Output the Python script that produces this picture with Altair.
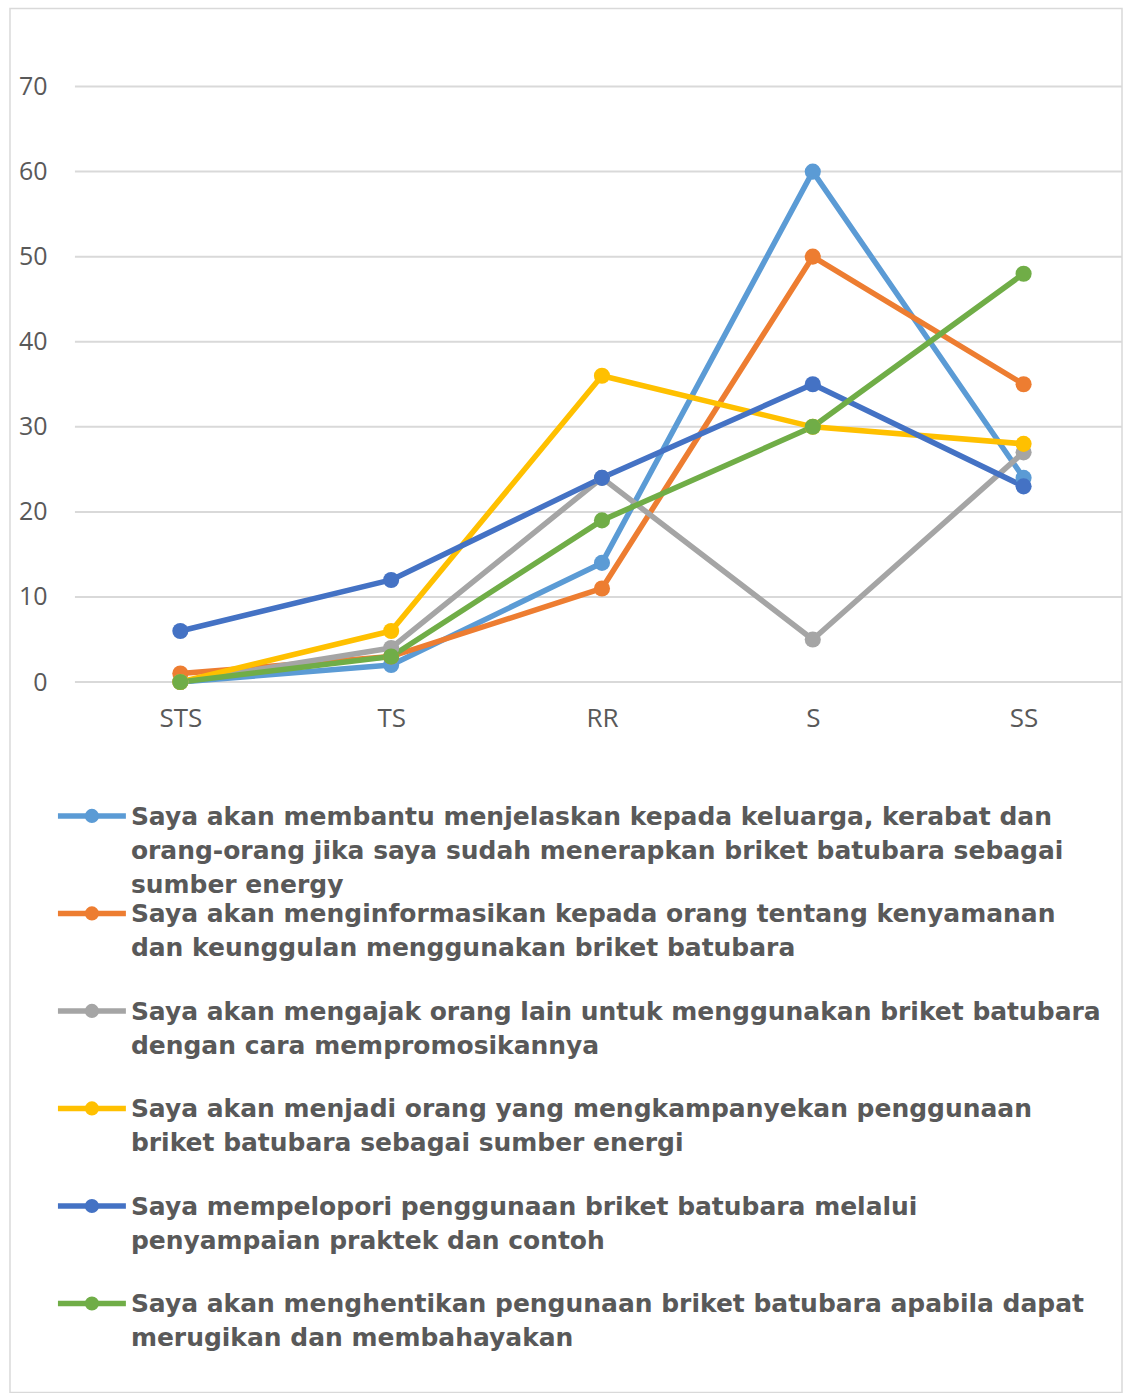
import altair as alt
import pandas as pd

# Likert categories on the x axis
categories = ["STS", "TS", "RR", "S", "SS"]

# One entry per statement (series), with the lines used in the legend
series_lines = [
    ["Saya akan membantu menjelaskan kepada keluarga, kerabat dan",
     "orang-orang jika saya sudah menerapkan briket batubara sebagai",
     "sumber energy"],
    ["Saya akan menginformasikan kepada orang tentang kenyamanan",
     "dan keunggulan menggunakan briket batubara"],
    ["Saya akan mengajak orang lain untuk menggunakan briket batubara",
     "dengan cara mempromosikannya"],
    ["Saya akan menjadi orang yang mengkampanyekan penggunaan",
     "briket batubara sebagai sumber energi"],
    ["Saya mempelopori penggunaan briket batubara melalui",
     "penyampaian praktek dan contoh"],
    ["Saya akan menghentikan pengunaan briket batubara apabila dapat",
     "merugikan dan membahayakan"],
]
series_colors = ["#5B9BD5", "#ED7D31", "#A5A5A5", "#FFC000", "#4472C4", "#70AD47"]

# Response counts per category (STS, TS, RR, S, SS)
membantu = [0, 2, 14, 60, 24]
menginformasikan = [1, 3, 11, 50, 35]
mengajak = [0, 4, 24, 5, 27]
mengkampanyekan = [0, 6, 36, 30, 28]
mempelopori = [6, 12, 24, 35, 23]
menghentikan = [0, 3, 19, 30, 48]

y_ticks = [0, 10, 20, 30, 40, 50, 60, 70]

series_values = [membantu, menginformasikan, mengajak,
                 mengkampanyekan, mempelopori, menghentikan]
series_names = [" ".join(lines) for lines in series_lines]

rows = []
for name, vals in zip(series_names, series_values):
    for cat, v in zip(categories, vals):
        rows.append({"series": name, "kategori": cat, "jumlah": v})
df = pd.DataFrame(rows)

legend_df = pd.DataFrame({
    "series": series_names,
    "entry": list(range(len(series_names))),
    "label": ["\n".join(lines) for lines in series_lines],
})
grid_df = pd.DataFrame({"tick": y_ticks})

W, H = 1113, 1385
TEXT = "#595959"

color = alt.Color("series:N", scale=alt.Scale(domain=series_names, range=series_colors),
                  legend=None)

x_enc = alt.X("kategori:N", sort=categories, title=None,
              scale=alt.Scale(type="point", domain=categories, range=[65, 1120], padding=0.5),
              axis=alt.Axis(grid=False, domain=False, ticks=False, tickSize=0,
                            labelPadding=0, offset=-687, labelFont="Open Sans",
                            labelFontSize=26, labelColor=TEXT, labelAngle=0,
                            labelBaseline="top"))
y_scale = alt.Scale(domain=[0, 70], range=[674, 78], nice=False, zero=True)

grid = alt.Chart(grid_df).mark_rule(color="#D9D9D9", strokeWidth=2).encode(
    x=alt.value(65), x2=alt.value(W),
    y=alt.Y("tick:Q", scale=y_scale, title=None,
            axis=alt.Axis(values=y_ticks, grid=False, domain=False, ticks=False,
                          tickSize=0, labelPadding=0, offset=-37,
                          labelFont="Open Sans", labelFontSize=25, labelColor=TEXT)),
)

lines = alt.Chart(df).mark_line(strokeWidth=5.5, strokeJoin="round", strokeCap="round").encode(
    x=x_enc,
    y=alt.Y("jumlah:Q", scale=y_scale, title=None),
    color=color,
    detail="series:N",
)
points = alt.Chart(df).mark_point(filled=True, opacity=1, size=260, shape="circle").encode(
    x=alt.X("kategori:N", sort=categories),
    y=alt.Y("jumlah:Q"),
    color=color,
)
plot = alt.layer(grid, lines, points)

entry_y = alt.Y("entry:O", axis=None, title=None,
                scale=alt.Scale(type="point", range=[808, 1296], padding=0))
leg_line = alt.Chart(legend_df).mark_rule(strokeWidth=5.5).encode(
    x=alt.value(48), x2=alt.value(116), y=entry_y, color=color)
leg_dot = alt.Chart(legend_df).mark_point(filled=True, opacity=1, size=200, shape="circle").encode(
    x=alt.value(82), y=entry_y, color=color)
leg_text = alt.Chart(legend_df).mark_text(
    align="left", baseline="top", dy=-11, lineBreak="\n", lineHeight=34,
    font="DejaVu Sans", fontWeight="bold", fontSize=25, color=TEXT,
).encode(x=alt.value(121), y=entry_y, text="label:N")
legend_block = alt.layer(leg_line, leg_dot, leg_text)

chart = alt.layer(plot, legend_block).resolve_scale(y="independent").properties(
    width=W, height=H,
    padding={"left": 10, "top": 8, "right": 5, "bottom": 0},
    background="white",
).configure_view(stroke="#D9D9D9", strokeWidth=1.5)

chart.save("out.html", embed_options={"renderer": "svg", "actions": False})
